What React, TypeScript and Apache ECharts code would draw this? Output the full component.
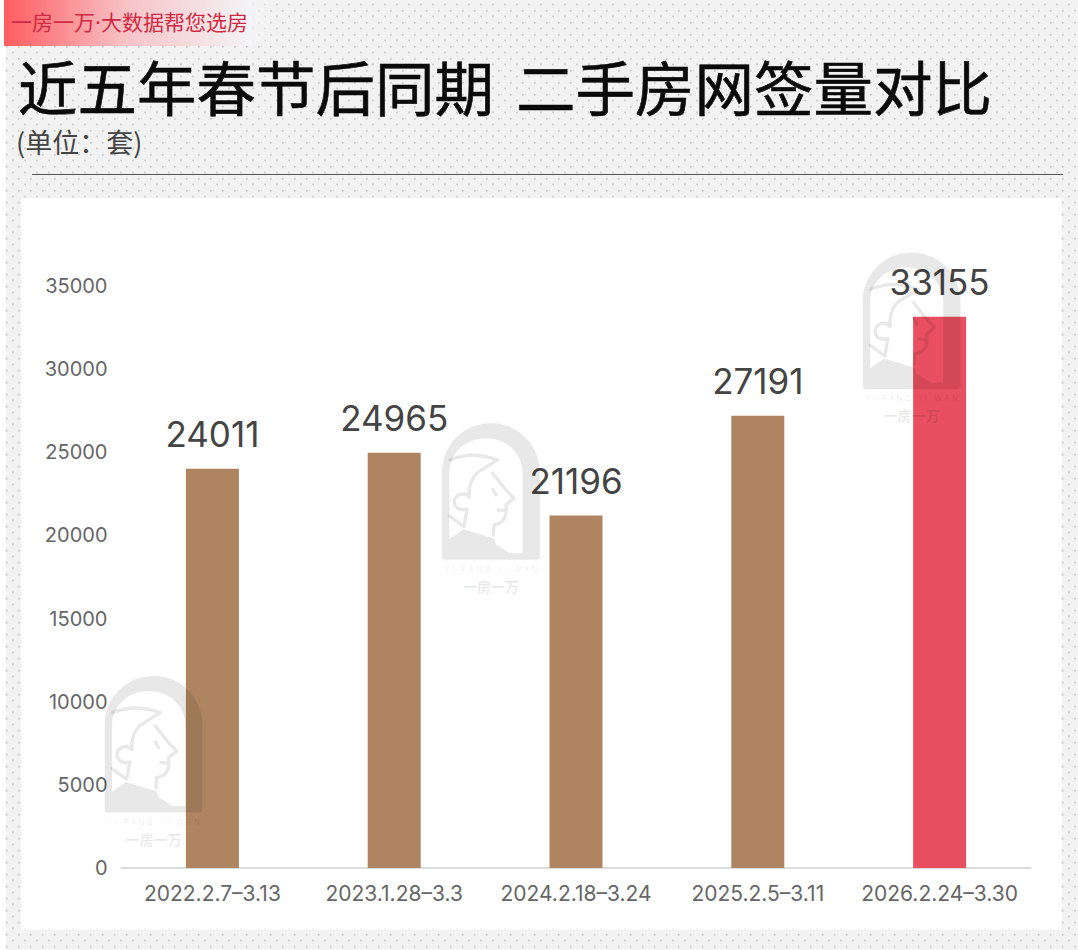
import * as echarts from 'echarts';
import React, { useEffect, useRef } from 'react';

const categories = ['2022.2.7–3.13', '2023.1.28–3.3', '2024.2.18–3.24', '2025.2.5–3.11', '2026.2.24–3.30'];
const values = [24011, 24965, 21196, 27191, 33155];
const barColors = ['#ae8560', '#ae8560', '#ae8560', '#ae8560', '#e84f60'];

const FONT = 'Inter, "Noto Sans CJK SC", sans-serif';
const CJK = '"Noto Sans CJK SC", sans-serif';
const MARK = 'rgba(0,0,0,0.09)';

// arch with the inner window cut out (inner path runs the other way round)
echarts.graphic.registerShape(
  'wmArch',
  echarts.graphic.extendPath(
    'M36,440 L36,190 C36,105 100,40 183,40 C266,40 330,105 330,190 L330,440 Q330,450 320,450 L46,450 Q36,450 36,440 Z ' +
      'M58,190 L58,388 L100,358 L192,386 L198,404 L240,430 L278,430 L278,190 C278,130 230,85 168,85 C106,85 58,130 58,190 Z',
    {}
  )
);
echarts.graphic.registerShape(
  'wmFigure',
  echarts.graphic.extendPath(
    'M60,150 Q125,122 203,150 L142,188 C125,205 115,232 118,262 C108,246 76,250 73,274 C72,294 92,304 112,298 L102,350 ' +
      'M58,318 L96,346 ' +
      'M188,190 L228,240 L252,265 L228,285 C232,315 225,340 192,345 L190,376 ' +
      'M204,300 L228,302 ' +
      'M189,238 L198,255',
    {}
  )
);

const watermark = (x: number, y: number) => ({
  type: 'group',
  x,
  y,
  silent: true,
  children: [
    { type: 'wmArch', scaleX: 1 / 3, scaleY: 1 / 3, z: 20, style: { fill: MARK } },
    {
      type: 'wmFigure',
      scaleX: 1 / 3,
      scaleY: 1 / 3,
      z: 20,
      style: { fill: 'none', stroke: MARK, lineWidth: 10, lineCap: 'round', lineJoin: 'round' },
    },
    {
      type: 'text',
      x: 61,
      y: 159,
      z: 20,
      style: {
        text: 'Y I   F A N G · Y I   W A N',
        font: '8px Inter, sans-serif',
        fill: 'rgba(0,0,0,0.09)',
        align: 'center',
        verticalAlign: 'middle',
      },
    },
    {
      type: 'text',
      x: 61,
      y: 176,
      z: 20,
      style: {
        text: '一房一万',
        font: `bold 14px ${CJK}`,
        fill: 'rgba(0,0,0,0.09)',
        align: 'center',
        verticalAlign: 'middle',
      },
    },
  ],
});

const App: React.FC = () => {
  const chartRef = useRef<HTMLDivElement>(null);

  useEffect(() => {
    if (!chartRef.current) return;
    const chart = echarts.init(chartRef.current, undefined, { renderer: 'svg' });

    chart.setOption({
      animation: false,
      backgroundColor: 'transparent',
      grid: { left: 121.5, right: 47.5, top: 286, bottom: 82 },
      xAxis: {
        type: 'category',
        data: categories,
        axisLine: { lineStyle: { color: '#dcdcdc', width: 2 } },
        axisTick: { show: false },
        axisLabel: { color: '#666', fontSize: 21, fontFamily: FONT, margin: 15, interval: 0 },
      },
      yAxis: {
        type: 'value',
        min: 0,
        max: 35000,
        interval: 5000,
        axisLine: { show: false },
        axisTick: { show: false },
        splitLine: { show: false },
        axisLabel: {
          color: '#666',
          fontSize: 20,
          fontFamily: FONT,
          margin: 14,
          formatter: (v: number) => String(v),
        },
      },
      series: [
        {
          type: 'bar',
          barWidth: 53,
          data: values.map((value, i) => ({ value, itemStyle: { color: barColors[i] } })),
          label: {
            show: true,
            position: 'top',
            distance: 17,
            color: '#444',
            fontSize: 35,
            fontFamily: FONT,
          },
        },
      ],
      graphic: [
        { type: 'rect', silent: true, z: -10, shape: { x: 21, y: 198, width: 1041, height: 732 }, style: { fill: '#fff' } },
        {
          type: 'rect',
          silent: true,
          z: -10,
          shape: { x: 4, y: 0, width: 272, height: 46 },
          style: {
            fill: {
              type: 'linear',
              x: 0,
              y: 0,
              x2: 1,
              y2: 0,
              colorStops: [
                { offset: 0, color: '#ff5c60' },
                { offset: 0.45, color: '#f7c3c7' },
                { offset: 0.9, color: '#f4f3f5' },
                { offset: 1, color: 'rgba(244,244,246,0)' },
              ],
            },
          },
        },
        {
          type: 'text',
          x: 11,
          y: 22,
          z: 5,
          style: {
            text: '一房一万·大数据帮您选房',
            font: `21px ${FONT}`,
            fill: '#cf2a42',
            verticalAlign: 'middle',
          },
        },
        {
          type: 'text',
          x: 18,
          y: 85,
          z: 5,
          style: {
            text: '近五年春节后同期',
            font: `400 59.5px ${CJK}`,
            fill: '#0a0a0a',
            stroke: '#0a0a0a',
            lineWidth: 0.6,
            verticalAlign: 'middle',
          },
        },
        {
          type: 'text',
          x: 516,
          y: 85,
          z: 5,
          style: {
            text: '二手房网签量对比',
            font: `400 59.5px ${CJK}`,
            fill: '#0a0a0a',
            stroke: '#0a0a0a',
            lineWidth: 0.6,
            verticalAlign: 'middle',
          },
        },
        {
          type: 'text',
          x: 16,
          y: 141,
          z: 5,
          style: { text: '(单位：套)', font: `27px ${CJK}`, fill: '#444', verticalAlign: 'middle' },
        },
        {
          type: 'line',
          silent: true,
          z: 5,
          shape: { x1: 32, y1: 174.5, x2: 1063, y2: 174.5 },
          style: { stroke: '#555', lineWidth: 1 },
        },
        watermark(92.7, 662.7),
        watermark(430, 410),
        watermark(850.7, 239.3),
      ],
    });

    return () => chart.dispose();
  }, []);

  return (
    <div style={{ position: 'fixed', left: 0, top: 0, width: 1078, height: 950, background: '#fff' }}>
      <div
        style={{
          position: 'absolute',
          left: 6,
          top: 0,
          right: 0,
          bottom: 0,
          backgroundColor: '#f2f2f2',
          backgroundImage:
            'radial-gradient(circle at 0.7px 10.7px, #cfcfcf 0.8px, transparent 1.3px), radial-gradient(circle at 7px 4.5px, #cfcfcf 0.8px, transparent 1.3px)',
          backgroundSize: '12px 12px',
        }}
      />
      <div ref={chartRef} style={{ position: 'absolute', left: 0, top: 0, width: 1078, height: 950 }} />
    </div>
  );
};

export default App;
